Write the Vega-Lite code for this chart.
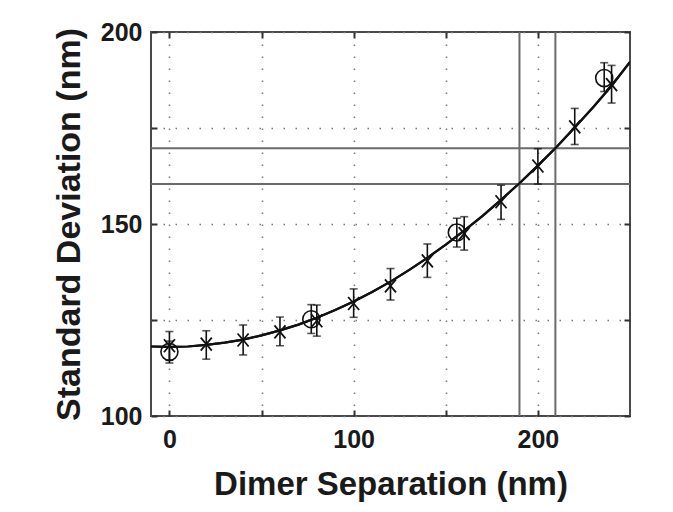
{
  "$schema": "https://vega.github.io/schema/vega-lite/v6.json",
  "width": 479,
  "height": 384,
  "autosize": {"type": "none"},
  "padding": {"left": 151, "top": 32, "right": 43, "bottom": 96},
  "background": "white",
  "config": {
    "font": "Liberation Sans",
    "view": {"stroke": "#4a4a4a", "strokeWidth": 2},
    "axis": {
      "domain": false,
      "labelFont": "Liberation Sans",
      "labelFontWeight": "bold",
      "labelFontSize": 25,
      "labelColor": "#1a1a1a",
      "titleFont": "Liberation Sans",
      "titleFontWeight": "bold",
      "titleColor": "#1a1a1a",
      "tickColor": "#303030",
      "tickWidth": 2
    }
  },
  "datasets": {
    "curve": [
      {"x": -10, "y": 118.1}, {"x": 0, "y": 118.0}, {"x": 10, "y": 118.1}, {"x": 20, "y": 118.5},
      {"x": 30, "y": 119.1}, {"x": 40, "y": 119.9}, {"x": 50, "y": 121.0}, {"x": 60, "y": 122.3},
      {"x": 70, "y": 123.8}, {"x": 80, "y": 125.6}, {"x": 90, "y": 127.6}, {"x": 100, "y": 129.8},
      {"x": 110, "y": 132.3}, {"x": 120, "y": 135.0}, {"x": 130, "y": 138.0}, {"x": 140, "y": 141.2},
      {"x": 150, "y": 144.6}, {"x": 160, "y": 148.3}, {"x": 170, "y": 152.1}, {"x": 180, "y": 156.3},
      {"x": 190, "y": 160.6}, {"x": 200, "y": 165.2}, {"x": 210, "y": 170.0}, {"x": 220, "y": 175.1},
      {"x": 230, "y": 180.4}, {"x": 240, "y": 186.0}, {"x": 250, "y": 192.2}
    ],
    "crosses": [
      {"x": 0, "y": 118.3, "lo": 114.5, "hi": 122.0},
      {"x": 20, "y": 118.7, "lo": 114.8, "hi": 122.2},
      {"x": 40, "y": 119.8, "lo": 115.9, "hi": 123.7},
      {"x": 60, "y": 121.9, "lo": 118.3, "hi": 125.8},
      {"x": 80, "y": 124.8, "lo": 120.8, "hi": 128.9},
      {"x": 100, "y": 129.3, "lo": 125.7, "hi": 133.1},
      {"x": 120, "y": 133.9, "lo": 130.2, "hi": 138.4},
      {"x": 140, "y": 140.4, "lo": 136.1, "hi": 144.8},
      {"x": 160, "y": 147.5, "lo": 143.2, "hi": 151.9},
      {"x": 180, "y": 155.8, "lo": 151.2, "hi": 160.1},
      {"x": 200, "y": 165.1, "lo": 160.4, "hi": 169.6},
      {"x": 220, "y": 175.3, "lo": 170.7, "hi": 180.1},
      {"x": 240, "y": 186.3, "lo": 181.5, "hi": 191.3}
    ],
    "circles": [
      {"x": 0, "y": 116.7, "lo": 113.8, "hi": 119.5},
      {"x": 77, "y": 125.2, "lo": 121.5, "hi": 129.0},
      {"x": 156, "y": 147.8, "lo": 144.0, "hi": 151.5},
      {"x": 236, "y": 188.0, "lo": 184.5, "hi": 192.0}
    ],
    "hlines": [{"y": 160.4}, {"y": 169.7}],
    "vlines": [{"x": 190}, {"x": 209.5}]
  },
  "layer": [
    {
      "data": {"name": "curve"},
      "mark": {"type": "line", "color": "#111", "strokeWidth": 2.2, "clip": true},
      "encoding": {
        "x": {
          "field": "x", "type": "quantitative",
          "scale": {"domain": [-10, 250], "nice": false, "zero": false},
          "axis": {
            "orient": "bottom",
            "title": "Dimer Separation (nm)",
            "titleFontSize": 33,
            "values": [0, 50, 100, 150, 200],
            "labelExpr": "datum.value % 100 === 0 ? datum.label : ''",
            "tickSize": -6,
            "labelPadding": 17,
            "labelBaseline": "top",
            "titlePadding": 16,
            "grid": true,
            "gridColor": "#7a7a7a",
            "gridWidth": 1.5,
            "gridDash": [1.5, 10.5]
          }
        },
        "y": {
          "field": "y", "type": "quantitative",
          "scale": {"domain": [100, 200], "nice": false, "zero": false},
          "axis": {
            "orient": "left",
            "title": "Standard Deviation (nm)",
            "titleFontSize": 34,
            "values": [100, 125, 150, 175, 200],
            "labelExpr": "datum.value % 50 === 0 ? datum.label : ''",
            "tickSize": -6,
            "labelPadding": 15,
            "titlePadding": 14,
            "grid": true,
            "gridColor": "#7a7a7a",
            "gridWidth": 1.5,
            "gridDash": [1.5, 10.5]
          }
        }
      }
    },
    {
      "data": {"name": "vlines"},
      "mark": {"type": "rule", "color": "#6a6a6a", "strokeWidth": 2},
      "encoding": {
        "x": {
          "field": "x", "type": "quantitative",
          "axis": {"orient": "top", "title": null, "values": [0, 50, 100, 150, 200], "labels": false, "tickSize": -6, "grid": false}
        }
      }
    },
    {
      "data": {"name": "hlines"},
      "mark": {"type": "rule", "color": "#6a6a6a", "strokeWidth": 2},
      "encoding": {
        "y": {
          "field": "y", "type": "quantitative",
          "axis": {"orient": "right", "title": null, "values": [100, 125, 150, 175, 200], "labels": false, "tickSize": -6, "grid": false}
        }
      }
    },
    {
      "data": {"name": "curve"},
      "mark": {"type": "line", "color": "#111", "strokeWidth": 2.2, "clip": true},
      "encoding": {
        "x": {"field": "x", "type": "quantitative", "axis": null},
        "y": {"field": "y", "type": "quantitative", "axis": null}
      }
    },
    {
      "data": {"name": "crosses"},
      "mark": {"type": "rule", "color": "#111", "strokeWidth": 1.6},
      "encoding": {
        "x": {"field": "x", "type": "quantitative", "axis": null},
        "y": {"field": "lo", "type": "quantitative", "axis": null},
        "y2": {"field": "hi"}
      }
    },
    {
      "data": {"name": "crosses"},
      "mark": {"type": "tick", "orient": "horizontal", "size": 8, "thickness": 1.6, "color": "#111"},
      "encoding": {
        "x": {"field": "x", "type": "quantitative", "axis": null},
        "y": {"field": "lo", "type": "quantitative", "axis": null}
      }
    },
    {
      "data": {"name": "crosses"},
      "mark": {"type": "tick", "orient": "horizontal", "size": 8, "thickness": 1.6, "color": "#111"},
      "encoding": {
        "x": {"field": "x", "type": "quantitative", "axis": null},
        "y": {"field": "hi", "type": "quantitative", "axis": null}
      }
    },
    {
      "data": {"name": "circles"},
      "mark": {"type": "rule", "color": "#111", "strokeWidth": 1.6},
      "encoding": {
        "x": {"field": "x", "type": "quantitative", "axis": null},
        "y": {"field": "lo", "type": "quantitative", "axis": null},
        "y2": {"field": "hi"}
      }
    },
    {
      "data": {"name": "circles"},
      "mark": {"type": "tick", "orient": "horizontal", "size": 8, "thickness": 1.6, "color": "#111"},
      "encoding": {
        "x": {"field": "x", "type": "quantitative", "axis": null},
        "y": {"field": "lo", "type": "quantitative", "axis": null}
      }
    },
    {
      "data": {"name": "circles"},
      "mark": {"type": "tick", "orient": "horizontal", "size": 8, "thickness": 1.6, "color": "#111"},
      "encoding": {
        "x": {"field": "x", "type": "quantitative", "axis": null},
        "y": {"field": "hi", "type": "quantitative", "axis": null}
      }
    },
    {
      "data": {"name": "crosses"},
      "mark": {"type": "point", "shape": "M-0.85,-1L0.85,1M0.85,-1L-0.85,1", "size": 169, "filled": false, "stroke": "#111", "strokeWidth": 1.8, "opacity": 1},
      "encoding": {
        "x": {"field": "x", "type": "quantitative", "axis": null},
        "y": {"field": "y", "type": "quantitative", "axis": null}
      }
    },
    {
      "data": {"name": "circles"},
      "mark": {"type": "point", "shape": "circle", "size": 290, "filled": false, "stroke": "#111", "strokeWidth": 1.6, "opacity": 1},
      "encoding": {
        "x": {"field": "x", "type": "quantitative", "axis": null},
        "y": {"field": "y", "type": "quantitative", "axis": null}
      }
    }
  ],
  "resolve": {"axis": {"x": "independent", "y": "independent"}}
}
